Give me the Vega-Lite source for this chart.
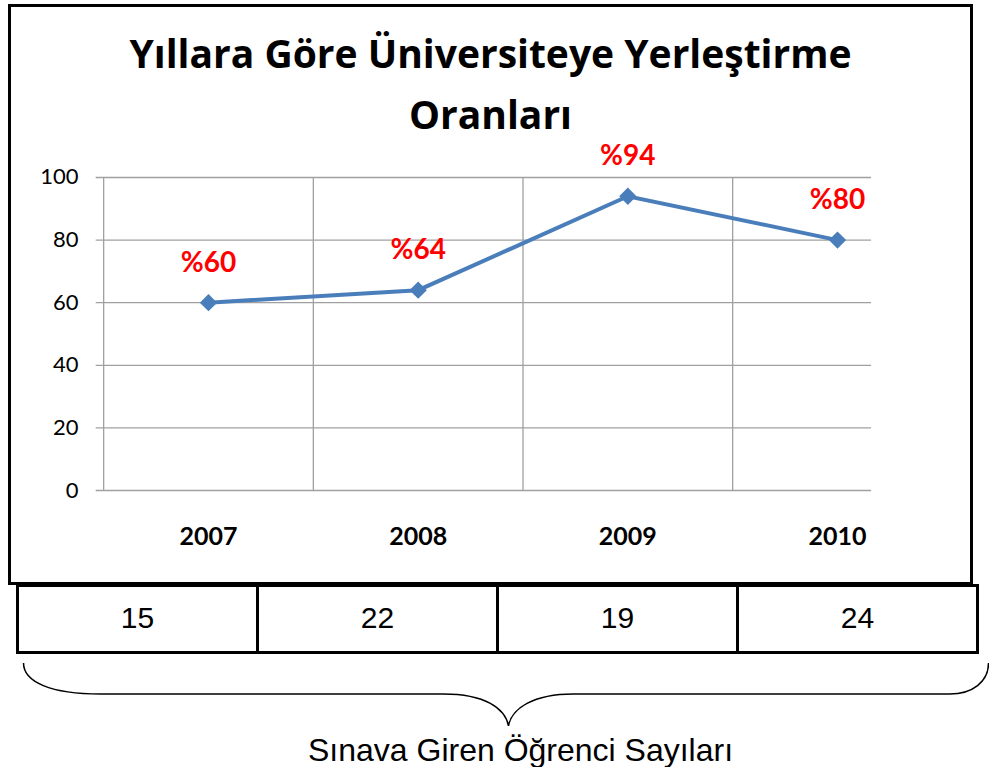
{
  "$schema": "https://vega.github.io/schema/vega-lite/v6.json",
  "padding": {"left": 7.5, "top": 3.5, "right": 0, "bottom": 0},
  "background": "white",
  "spacing": -3,
  "datasets": {
    "main": [
      {"year": 2007, "rate": 60, "label": "%60", "students": 15},
      {"year": 2008, "rate": 64, "label": "%64", "students": 22},
      {"year": 2009, "rate": 94, "label": "%94", "students": 19},
      {"year": 2010, "rate": 80, "label": "%80", "students": 24}
    ],
    "ticks": [{"tick": 0}, {"tick": 20}, {"tick": 40}, {"tick": 60}, {"tick": 80}, {"tick": 100}]
  },
  "resolve": {"scale": {"x": "independent", "y": "independent"}},
  "vconcat": [
    {
      "width": 962,
      "height": 578,
      "view": {"stroke": "black", "strokeWidth": 3, "fill": "white"},
      "title": {
        "text": ["Yıllara Göre Üniversiteye Yerleştirme", "Oranları"],
        "orient": "top",
        "anchor": "middle",
        "frame": "group",
        "font": "Open Sans",
        "fontSize": 39,
        "fontWeight": "bold",
        "color": "black",
        "lineHeight": 61,
        "baseline": "bottom",
        "offset": -170
      },
      "layer": [
        {
          "data": {"name": "ticks"},
          "mark": {"type": "rule", "color": "#a0a0a0", "strokeWidth": 1.3},
          "encoding": {
            "y": {"field": "tick", "type": "quantitative", "scale": {"domain": [-29.71, 154.95], "nice": false, "zero": false}, "axis": null},
            "x": {"datum": 2006.462, "type": "quantitative", "scale": {"domain": [2006.0509, 2010.6391], "nice": false, "zero": false}, "axis": null},
            "x2": {"datum": 2010.16}
          }
        },
        {
          "data": {"values": [{"grid": 2006.5}, {"grid": 2007.5}, {"grid": 2008.5}, {"grid": 2009.5}]},
          "mark": {"type": "rule", "color": "#a0a0a0", "strokeWidth": 1.3},
          "encoding": {
            "x": {"field": "grid", "type": "quantitative", "axis": null},
            "y": {"datum": 0, "type": "quantitative", "axis": null},
            "y2": {"datum": 100}
          }
        },
        {
          "data": {"name": "ticks"},
          "mark": {"type": "text", "font": "Lato", "fontSize": 22, "color": "black", "align": "right", "baseline": "middle"},
          "encoding": {
            "y": {"field": "tick", "type": "quantitative", "axis": null},
            "x": {"datum": 2006.38, "type": "quantitative", "axis": null},
            "text": {"field": "tick", "type": "nominal"}
          }
        },
        {
          "data": {"name": "main"},
          "mark": {"type": "text", "font": "Lato", "fontSize": 25, "fontWeight": "bold", "color": "black", "align": "center", "baseline": "middle"},
          "encoding": {
            "x": {"field": "year", "type": "quantitative", "axis": null},
            "y": {"datum": -15, "type": "quantitative", "axis": null},
            "text": {"field": "year", "type": "nominal"}
          }
        },
        {
          "data": {"name": "main"},
          "mark": {"type": "line", "color": "#4a7ebb", "strokeWidth": 4},
          "encoding": {
            "x": {"field": "year", "type": "quantitative", "axis": null},
            "y": {"field": "rate", "type": "quantitative", "axis": null}
          }
        },
        {
          "data": {"name": "main"},
          "mark": {"type": "point", "shape": "diamond", "filled": true, "color": "#4a7ebb", "size": 300, "opacity": 1},
          "encoding": {
            "x": {"field": "year", "type": "quantitative", "axis": null},
            "y": {"field": "rate", "type": "quantitative", "axis": null}
          }
        },
        {
          "data": {"name": "main"},
          "mark": {"type": "text", "font": "Lato", "fontSize": 28, "fontWeight": "bold", "color": "#ff0000", "dy": -39},
          "encoding": {
            "x": {"field": "year", "type": "quantitative", "axis": null},
            "y": {"field": "rate", "type": "quantitative", "axis": null},
            "text": {"field": "label"}
          }
        }
      ]
    },
    {
      "width": 968,
      "height": 67,
      "data": {"name": "main"},
      "layer": [
        {
          "mark": {"type": "rect", "fill": "white", "stroke": "black", "strokeWidth": 3},
          "encoding": {
            "x": {"field": "year", "type": "ordinal", "scale": {"paddingInner": 0, "paddingOuter": 0.01667, "align": 1}, "axis": null}
          }
        },
        {
          "mark": {"type": "text", "font": "Liberation Sans", "fontSize": 30, "color": "black"},
          "encoding": {
            "x": {"field": "year", "type": "ordinal", "axis": null},
            "text": {"field": "students"}
          }
        }
      ]
    },
    {
      "width": 980,
      "height": 79,
      "data": {"values": [{"part": "brace"}]},
      "title": {
        "text": "Sınava Giren Öğrenci Sayıları",
        "orient": "bottom",
        "anchor": "middle",
        "frame": "group",
        "font": "Liberation Sans",
        "fontSize": 32,
        "fontWeight": "normal",
        "color": "black",
        "offset": 2,
        "dx": 21
      },
      "mark": {
        "type": "point",
        "shape": "M-0.9865,-0.0642 C-0.9865,-0.025 -0.93,0 -0.827,0 L-0.116,0 C-0.03,0 0.012,0.03 0.0186,0.0663 C0.025,0.03 0.07,0 0.153,0 L0.933,0 C0.98,0 1.0135,-0.025 1.0135,-0.0642",
        "size": 931225,
        "filled": false,
        "stroke": "black",
        "strokeWidth": 1.5,
        "opacity": 1
      },
      "encoding": {}
    }
  ],
  "config": {"view": {"stroke": null}}
}
